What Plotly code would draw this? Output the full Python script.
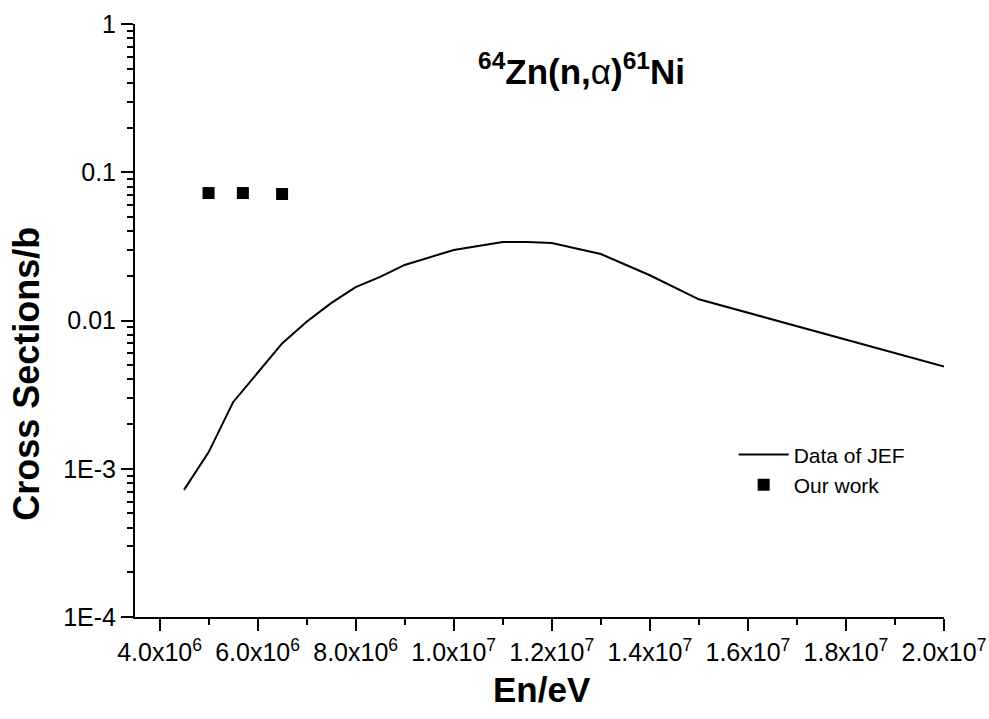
import plotly.graph_objects as go

# JEF evaluated cross sections for 64Zn(n,alpha)61Ni
jef_energy = [4.5e6, 5.0e6, 5.5e6, 6.5e6, 7.0e6, 7.5e6, 8.0e6, 8.5e6, 9.0e6,
              1.0e7, 1.1e7, 1.15e7, 1.2e7, 1.3e7, 1.4e7, 1.5e7, 2.0e7]
jef_sigma = [7.2e-4, 1.29e-3, 2.81e-3, 7.0e-3, 9.8e-3, 1.31e-2, 1.68e-2, 1.97e-2, 2.37e-2,
             2.99e-2, 3.38e-2, 3.38e-2, 3.33e-2, 2.81e-2, 2.02e-2, 1.39e-2, 4.9e-3]

# Present results
our_energy = [5.0e6, 5.7e6, 6.5e6]
our_sigma = [0.0724, 0.0724, 0.0713]

# Axis ticks
x_tickvals = [4e6, 6e6, 8e6, 1e7, 1.2e7, 1.4e7, 1.6e7, 1.8e7, 2e7]
x_ticktext = ["4.0x10<sup>6</sup>", "6.0x10<sup>6</sup>", "8.0x10<sup>6</sup>",
              "1.0x10<sup>7</sup>", "1.2x10<sup>7</sup>", "1.4x10<sup>7</sup>",
              "1.6x10<sup>7</sup>", "1.8x10<sup>7</sup>", "2.0x10<sup>7</sup>"]
y_tickvals = [1, 0.1, 0.01, 1e-3, 1e-4]
y_ticktext = ["1", "0.1", "0.01", "1E-3", "1E-4"]
y_minor = [m * 10.0 ** e for e in range(-4, 0) for m in range(2, 10)]
x_minor = [5e6, 7e6, 9e6, 1.1e7, 1.3e7, 1.5e7, 1.7e7, 1.9e7]

FONT = "Arial, Liberation Sans, sans-serif"

fig = go.Figure()
fig.add_trace(go.Scatter(
    x=jef_energy, y=jef_sigma, mode="lines", name="Data of JEF",
    line=dict(color="black", width=2),
))
fig.add_trace(go.Scatter(
    x=our_energy, y=our_sigma, mode="markers", name="Our work",
    marker=dict(symbol="square", color="black", size=12),
))

fig.update_layout(
    width=989, height=719,
    paper_bgcolor="white", plot_bgcolor="white",
    margin=dict(l=135, r=45, t=24, b=102, autoexpand=False),
    font=dict(family=FONT, color="black", size=24),
    showlegend=True,
    legend=dict(
        x=0.74, y=0.308, xanchor="left", yanchor="top",
        bgcolor="rgba(0,0,0,0)", font=dict(size=21, family=FONT),
        itemwidth=50, tracegroupgap=0,
    ),
    xaxis=dict(
        type="linear", range=[3.5e6, 2.0e7], automargin=False,
        tickmode="array", tickvals=x_tickvals, ticktext=x_ticktext,
        ticks="outside", ticklen=12, tickwidth=2, tickcolor="black",
        showline=True, linecolor="black", linewidth=2, mirror=False,
        showgrid=False, zeroline=False,
        tickfont=dict(size=25, family=FONT),
        minor=dict(tickmode="array", tickvals=x_minor, ticks="outside",
                   ticklen=6, tickwidth=2, tickcolor="black", showgrid=False),
    ),
    yaxis=dict(
        type="log", range=[-4, 0], automargin=False,
        tickmode="array", tickvals=y_tickvals, ticktext=y_ticktext,
        ticks="outside", ticklen=12, tickwidth=2, tickcolor="black",
        showline=True, linecolor="black", linewidth=2, mirror=False,
        showgrid=False, zeroline=False,
        tickfont=dict(size=25, family=FONT),
        minor=dict(tickmode="array", tickvals=y_minor, ticks="outside",
                   ticklen=6, tickwidth=2, tickcolor="black", showgrid=False),
    ),
    annotations=[
        dict(text="<b><sup>64</sup>Zn(n,</b>α<b>)<sup>61</sup>Ni</b>",
             xref="paper", yref="paper", x=0.552, y=0.924,
             xanchor="center", yanchor="middle", showarrow=False,
             font=dict(size=35, family=FONT)),
        dict(text="<b>En/eV</b>", xref="paper", yref="paper",
             x=0.503, y=-0.123, xanchor="center", yanchor="middle",
             showarrow=False, font=dict(size=35, family=FONT)),
        dict(text="<b>Cross Sections/b</b>", xref="paper", yref="paper",
             x=-0.1335, y=0.41, xanchor="center", yanchor="middle",
             textangle=-90, showarrow=False, font=dict(size=36, family=FONT)),
    ],
)

fig.write_html("out.html")
